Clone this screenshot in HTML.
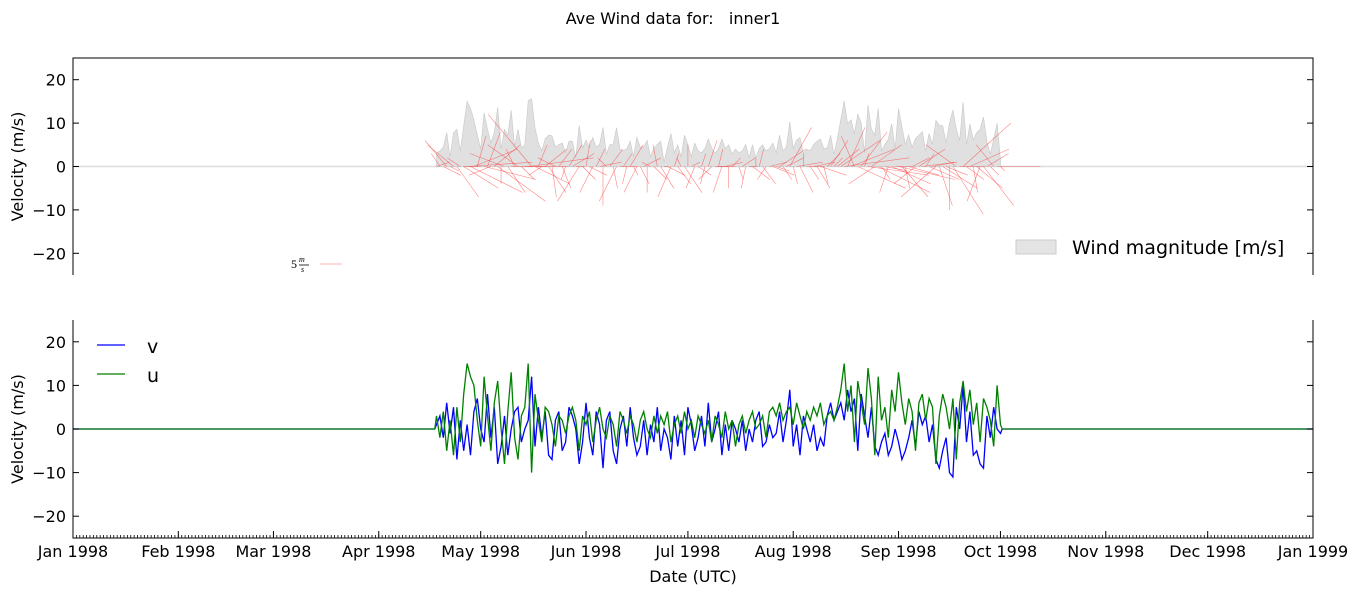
<!DOCTYPE html>
<html><head><meta charset="utf-8"><style>
body{margin:0;background:#fff}
svg{display:block;font-family:"DejaVu Sans","Liberation Sans",sans-serif}
</style></head><body>
<svg id="c" width="1358" height="596" viewBox="0 0 1358 596"></svg>
<script>
const startDay=107;
const uVals=[3,-2,4,-5,2,-6,5,-3,8,15,
12,10,2,-4,12,3,-5,6,11,0,
-8,4,13,-2,-7,3,5,15,-10,8,
2,-3,5,4,1,-4,3,2,-1,3,
5,2,-5,3,1,4,-3,2,5,0,
-2,3,1,-4,4,2,-1,3,1,-3,
2,4,0,-2,3,-1,3,1,4,-3,
1,3,-1,4,0,2,-2,3,1,-1,
2,-3,3,1,-2,4,0,2,-4,1,
3,-1,2,4,0,1,3,-2,4,5,
3,6,2,4,5,1,6,3,0,4,
2,5,3,6,1,3,4,2,5,9,
15,4,10,-3,11,6,1,14,7,-6,
12,2,5,-2,9,4,13,6,1,7,
4,-5,6,8,2,7,5,-8,3,8,
5,0,7,-7,6,11,4,9,1,6,
-3,7,5,2,-4,10,1];
const vVals=[1,3,-2,6,-1,5,-7,2,-5,1,
-6,4,7,0,-3,8,-2,5,-8,-4,
3,-6,0,4,5,-3,0,2,12,-4,
5,-2,4,-6,-7,2,4,-5,-3,5,
3,0,-8,-3,6,-2,-6,4,1,-9,
2,4,-5,-8,0,3,-4,5,-2,-6,
-4,2,-6,1,-3,5,-5,0,-2,-7,
3,-4,2,-6,5,1,-5,-2,3,-4,
6,-3,0,4,-6,1,-5,2,0,-3,
2,-5,0,-3,2,4,-4,-3,1,-2,
-1,4,-3,2,9,-4,1,-6,3,0,
-3,1,-5,-2,-4,3,6,2,4,6,
2,9,4,7,-5,8,3,-2,5,-4,
-6,-3,-1,-6,-4,0,-3,-7,-5,-2,
2,-4,4,1,3,-3,1,-7,-9,-5,
-2,-10,-11,5,0,10,-3,4,-6,-5,
-8,-9,3,-2,5,0,-1];
const monthDays=[0,31,59,90,120,151,181,212,243,273,304,334,365];
const monthLabels=["Jan 1998","Feb 1998","Mar 1998","Apr 1998","May 1998","Jun 1998","Jul 1998","Aug 1998","Sep 1998","Oct 1998","Nov 1998","Dec 1998","Jan 1999"];
const yTicks=[20,10,0,-10,-20];
const yTickLabels=["20","10","0","\u221210","\u221220"];

const NS="http://www.w3.org/2000/svg";
const svg=document.getElementById('c');
const X0=73,X1=1313;
const xs=d=>X0+(d/365)*(X1-X0);
const pTop={y0:58,y1:275},pBot={y0:320,y1:538};
const ys=(p,v)=>p.y0+(25-v)/50*(p.y1-p.y0);
function el(t,a,txt){const e=document.createElementNS(NS,t);for(const k in a)e.setAttribute(k,a[k]);if(txt!==undefined)e.textContent=txt;svg.appendChild(e);return e;}

let e=el('text',{x:673,y:24,'font-size':16,'text-anchor':'middle',style:'white-space:pre'},'Ave Wind data for:   inner1');



e=el('line',{x1:X0,x2:X1,y1:ys(pTop,0),y2:ys(pTop,0),stroke:'#ddd','stroke-width':1.5});


let pts=[];
for(let i=0;i<uVals.length;i++){const m=Math.sqrt(uVals[i]**2+vVals[i]**2);pts.push(xs(startDay+i).toFixed(1)+','+ys(pTop,m).toFixed(1));}
const pathD='M'+xs(startDay).toFixed(1)+','+ys(pTop,0)+' L'+pts.join(' L')+' L'+xs(startDay+uVals.length-1).toFixed(1)+','+ys(pTop,0)+'Z';
e=el('path',{d:pathD,fill:'#e0e0e0',stroke:'#c8c8c8','stroke-width':0.6});


const sc=(pTop.y1-pTop.y0)/50;
for(let i=0;i<uVals.length;i++){
 const x=xs(startDay+i),y=ys(pTop,0);
 e=el('line',{x1:x,y1:y,x2:x+uVals[i]*sc,y2:y-vVals[i]*sc,stroke:'#ff3030','stroke-width':0.6,'stroke-opacity':0.6});
 
 
}
e=el('text',{x:291,y:268,'font-size':12,'font-family':'Liberation Serif,serif'},'5');


el('text',{x:299,y:262,'font-size':8,'font-style':'italic','font-family':'Liberation Serif,serif'},'m');
el('line',{x1:299,x2:309,y1:265,y2:265,stroke:'#000','stroke-width':0.8});
el('text',{x:301,y:272,'font-size':8,'font-style':'italic','font-family':'Liberation Serif,serif'},'s');
e=el('line',{x1:320,x2:342,y1:264,y2:264,stroke:'#ffb0b0','stroke-width':1});


e=el('rect',{x:1016,y:240,width:40,height:14,fill:'#e4e4e4',stroke:'#ccc'});


e=el('text',{x:1072,y:254,'font-size':19},'Wind magnitude [m/s]');



function series(vals,col,name){
 const p=['M'+xs(0)+','+ys(pBot,0),'L'+xs(startDay-0.5)+','+ys(pBot,0)];
 for(let i=0;i<vals.length;i++)p.push('L'+xs(startDay+i).toFixed(1)+','+ys(pBot,vals[i]).toFixed(1));
 p.push('L'+xs(startDay+vals.length-0.5)+','+ys(pBot,0),'L'+xs(365)+','+ys(pBot,0));
 const e=el('path',{d:p.join(' '),fill:'none',stroke:col,'stroke-width':1.3});
 
 
}
series(vVals,'#0000ff','v-series');
series(uVals,'#008000','u-series');
e=el('line',{x1:97,x2:125,y1:345,y2:345,stroke:'#0000ff','stroke-width':1.3});


e=el('text',{x:147,y:353,'font-size':19},'v');


e=el('line',{x1:97,x2:125,y1:374,y2:374,stroke:'#008000','stroke-width':1.3});


e=el('text',{x:147,y:382,'font-size':19},'u');



e=el('path',{d:`M${X0},${pTop.y1} V${pTop.y0} H${X1} V${pTop.y1}`,fill:'none',stroke:'#000','stroke-width':1});


e=el('path',{d:`M${X0},${pBot.y0} V${pBot.y1} H${X1} V${pBot.y0}`,fill:'none',stroke:'#000','stroke-width':1});



[pTop,pBot].forEach((p,pi)=>{
 yTicks.forEach((t,i)=>{
  const y=ys(p,t);
  el('line',{x1:X0,x2:X0+6,y1:y,y2:y,stroke:'#000'});
  el('line',{x1:X1,x2:X1-6,y1:y,y2:y,stroke:'#000'});
  const tl=el('text',{x:X0-7,y:y+6,'font-size':16,'text-anchor':'end'},yTickLabels[i]);
  
  
 });
 const yt=el('text',{x:0,y:0,'font-size':16,'text-anchor':'middle',transform:`translate(23,${(p.y0+p.y1)/2}) rotate(-90)`},'Velocity (m/s)');
 
 
});
for(let d=0;d<=365;d++){el('line',{x1:xs(d),x2:xs(d),y1:pBot.y1,y2:pBot.y1-3,stroke:'#000','stroke-width':0.8});}
monthDays.forEach((d,i)=>{
 el('line',{x1:xs(d),x2:xs(d),y1:pBot.y1,y2:pBot.y1-7,stroke:'#000'});
 const xl=el('text',{x:xs(d),y:557,'font-size':16,'text-anchor':'middle'},monthLabels[i]);
 
 
});
e=el('text',{x:693,y:582,'font-size':16,'text-anchor':'middle'},'Date (UTC)');


</script>
</body></html>
